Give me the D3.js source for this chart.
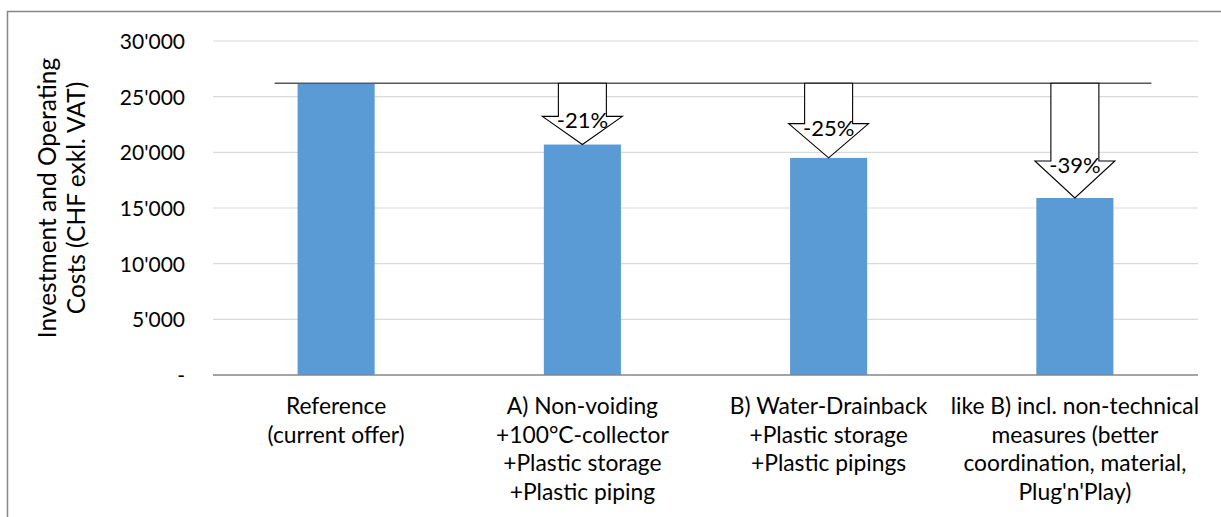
<!DOCTYPE html>
<html>
<head>
<meta charset="utf-8">
<script src="https://cdn.jsdelivr.net/npm/d3@7"></script>
<style>
  body { margin: 0; background: #fff; }
  svg text { font-family: Lato, "Open Sans", sans-serif; fill: #000; }
</style>
</head>
<body>
<div id="chart"></div>
<script>
// Datos del gráfico
const categories = [
  ["Reference", "(current offer)"],
  ["A) Non-voiding", "+100°C-collector", "+Plastic storage", "+Plastic piping"],
  ["B) Water-Drainback", "+Plastic storage", "+Plastic pipings"],
  ["like B) incl. non-technical", "measures (better", "coordination, material,", "Plug'n'Play)"]
];
const costs = [26200, 20700, 19500, 15900];
const reductions = ["-21%", "-25%", "-39%"];
const yTicks = [0, 5000, 10000, 15000, 20000, 25000, 30000];
const yTitle = ["Investment and Operating", "Costs (CHF exkl. VAT)"];

const width = 1221;
const height = 517;

const svg = d3.select("#chart")
  .append("svg")
  .attr("width", width)
  .attr("height", height);

// Borde del área del gráfico
svg.append("rect")
  .attr("x", 7.5).attr("y", 11.5)
  .attr("width", 1240).attr("height", 540)
  .attr("fill", "none")
  .attr("stroke", "#878787")
  .attr("stroke-width", 1.5);

const xScale = d3.scaleBand()
  .domain(d3.range(categories.length))
  .range([213, 1198])
  .paddingInner(0.687)
  .paddingOuter(0.3435);

const yScale = d3.scaleLinear()
  .domain([0, 30000])
  .range([375, 41]);

// Líneas de la cuadrícula
svg.append("g")
  .selectAll("line")
  .data(yTicks.filter(d => d > 0))
  .enter()
  .append("line")
  .attr("x1", 213).attr("x2", 1198)
  .attr("y1", d => yScale(d)).attr("y2", d => yScale(d))
  .attr("stroke", "#d9d9d9")
  .attr("stroke-width", 1.2);

// Eje Y con formato suizo (30'000)
const fmt = d => d === 0 ? "-" : d3.format(",")(d).replace(/,/g, "'");
const yAxis = d3.axisLeft(yScale)
  .tickValues(yTicks)
  .tickSize(0)
  .tickPadding(0)
  .tickFormat(fmt);

svg.append("g")
  .attr("transform", "translate(185,0)")
  .call(yAxis)
  .call(g => g.select(".domain").remove())
  .call(g => g.selectAll("text")
    .attr("font-size", 21)
    .attr("font-family", "Lato, sans-serif")
    .attr("dy", "0.36em")
    .attr("fill", "#000"));

// Barras
svg.selectAll("rect.bar")
  .data(costs)
  .enter()
  .append("rect")
  .attr("class", "bar")
  .attr("x", (d, i) => xScale(i))
  .attr("y", d => yScale(d))
  .attr("width", xScale.bandwidth())
  .attr("height", d => yScale(0) - yScale(d))
  .attr("fill", "#5b9bd5");

// Eje X (línea base)
svg.append("line")
  .attr("x1", 213).attr("x2", 1198)
  .attr("y1", yScale(0)).attr("y2", yScale(0))
  .attr("stroke", "#868686")
  .attr("stroke-width", 1.5);

// Etiquetas de categorías
const labels = svg.append("g")
  .selectAll("text")
  .data(categories)
  .enter()
  .append("text")
  .attr("text-anchor", "middle")
  .attr("font-size", 22.8)
  .attr("x", (d, i) => xScale(i) + xScale.bandwidth() / 2)
  .attr("y", 414);

labels.selectAll("tspan")
  .data(d => d)
  .enter()
  .append("tspan")
  .attr("x", function() { return d3.select(this.parentNode).attr("x"); })
  .attr("dy", (d, i) => i === 0 ? 0 : 28.6)
  .text(d => d);

// Línea de referencia al nivel del valor de referencia
const refY = yScale(costs[0]);
svg.append("line")
  .attr("x1", xScale(0) - 23)
  .attr("x2", xScale(categories.length - 1) + xScale.bandwidth() + 38)
  .attr("y1", refY).attr("y2", refY)
  .attr("stroke", "#595959")
  .attr("stroke-width", 1.5);

// Flechas de reducción
const shaftW = 48, headW = 80;
const arrows = svg.append("g")
  .selectAll("g")
  .data(reductions)
  .enter()
  .append("g");

arrows.append("path")
  .attr("d", (d, i) => {
    const cx = xScale(i + 1) + xScale.bandwidth() / 2;
    const tip = yScale(costs[i + 1]);
    const len = tip - refY;
    const headH = Math.min(0.46 * len, 37);
    const base = tip - headH;
    return d3.line()([
      [cx - shaftW / 2, refY],
      [cx + shaftW / 2, refY],
      [cx + shaftW / 2, base],
      [cx + headW / 2, base],
      [cx, tip],
      [cx - headW / 2, base],
      [cx - shaftW / 2, base]
    ]) + "Z";
  })
  .attr("fill", "#fff")
  .attr("stroke", "#000")
  .attr("stroke-width", 1.1);

arrows.append("text")
  .attr("text-anchor", "middle")
  .attr("font-size", 22)
  .attr("x", (d, i) => xScale(i + 1) + xScale.bandwidth() / 2)
  .attr("y", (d, i) => {
    const tip = yScale(costs[i + 1]);
    const headH = Math.min(0.46 * (tip - refY), 37);
    return tip - headH + 12;
  })
  .text(d => d);

// Título del eje Y
svg.append("text")
  .attr("transform", "translate(0,198) rotate(-90)")
  .attr("text-anchor", "middle")
  .attr("font-size", 24.5)
  .selectAll("tspan")
  .data(yTitle)
  .enter()
  .append("tspan")
  .attr("x", 0)
  .attr("y", (d, i) => 56 + i * 29)
  .text(d => d);
</script>
</body>
</html>
